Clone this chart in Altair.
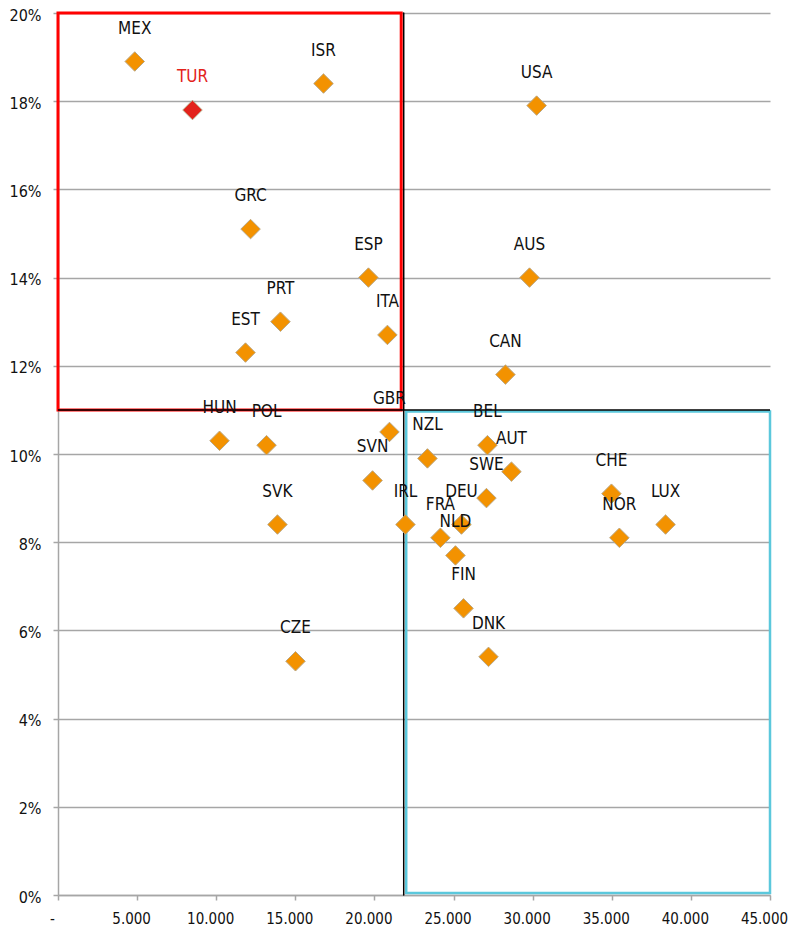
import altair as alt
import pandas as pd

# Data
countries = ["MEX", "TUR", "ISR", "USA", "GRC", "ESP", "AUS", "PRT", "EST", "ITA",
             "CAN", "HUN", "POL", "GBR", "NZL", "BEL", "AUT", "SVN", "SWE", "SVK",
             "IRL", "FRA", "DEU", "NLD", "FIN", "DNK", "CZE", "CHE", "NOR", "LUX"]
income = [4850, 8500, 16780, 30250, 12170, 19620, 29800, 14060, 11850, 20820,
          28280, 10210, 13180, 20950, 23350, 27140, 28660, 19880, 27080, 13870,
          21960, 24170, 25500, 25120, 25630, 27210, 15010, 34980, 35480, 38400]
poverty = [18.9, 17.8, 18.4, 17.9, 15.1, 14.0, 14.0, 13.0, 12.3, 12.7,
           11.8, 10.3, 10.2, 10.5, 9.9, 10.2, 9.6, 9.4, 9.0, 8.4,
           8.4, 8.1, 8.4, 7.7, 6.5, 5.4, 5.3, 9.1, 8.1, 8.4]
highlight = ["TUR"]

x_ticks = [0, 5000, 10000, 15000, 20000, 25000, 30000, 35000, 40000, 45000]
y_ticks = [0, 2, 4, 6, 8, 10, 12, 14, 16, 18, 20]

avg_income = 21850
avg_poverty = 11

FONT = "DejaVu Sans Condensed, Liberation Sans Narrow, sans-serif"
ORANGE = "#f39200"
RED_PT = "#e3221b"

df = pd.DataFrame({"country": countries, "income": income, "poverty": poverty})
df["hl"] = df["country"].isin(highlight)

xs = alt.Scale(domain=[0, 45000], nice=False, zero=False)
ys = alt.Scale(domain=[0, 20], nice=False, zero=False)

x_axis = alt.Axis(values=x_ticks, grid=False, domainColor="#a6a6a6", domainWidth=1.5,
                  tickColor="#a6a6a6", tickSize=5, tickWidth=1.5,
                  labelFont=FONT, labelFontSize=15, labelColor="#111111",
                  labelPadding=11, labelOffset=-6, labelOverlap=False, labelFlush=False,
                  title=None,
                  labelExpr="datum.value === 0 ? '-' : replace(format(datum.value, ','), ',', '.')")
y_axis = alt.Axis(values=y_ticks, grid=True, gridColor="#a6a6a6", gridWidth=1.5,
                  domainColor="#a6a6a6", domainWidth=1.5,
                  tickColor="#a6a6a6", tickSize=5, tickWidth=1.5,
                  labelFont=FONT, labelFontSize=16, labelColor="#111111",
                  labelPadding=12, labelOffset=2, labelOverlap=False, labelFlush=False,
                  title=None,
                  labelExpr="datum.value + '%'")

base = alt.Chart(df)

axes_layer = base.mark_point(opacity=0).encode(
    x=alt.X("income:Q", scale=xs, axis=x_axis),
    y=alt.Y("poverty:Q", scale=ys, axis=y_axis),
)

red_box = alt.Chart(pd.DataFrame({"x": [0], "x2": [avg_income], "y": [avg_poverty], "y2": [20]})).mark_rect(
    fillOpacity=0, stroke="#ff0000", strokeWidth=3, x2Offset=-2.5
).encode(x=alt.X("x:Q", scale=xs), x2="x2:Q", y=alt.Y("y:Q", scale=ys), y2="y2:Q")

cyan_box = alt.Chart(pd.DataFrame({"x": [avg_income], "x2": [45000], "y": [0], "y2": [avg_poverty]})).mark_rect(
    fillOpacity=0, stroke="#5bc8dc", strokeWidth=2.5, xOffset=2.5, yOffset=-2, y2Offset=1.5
).encode(x=alt.X("x:Q", scale=xs), x2="x2:Q", y=alt.Y("y:Q", scale=ys), y2="y2:Q")

vline = alt.Chart(pd.DataFrame({"x": [avg_income], "y": [0], "y2": [20]})).mark_rule(
    color="#000000", strokeWidth=1.5, strokeCap="round"
).encode(x=alt.X("x:Q", scale=xs), y=alt.Y("y:Q", scale=ys), y2="y2:Q")

hline = alt.Chart(pd.DataFrame({"x": [0], "x2": [45000], "y": [avg_poverty]})).mark_rule(
    color="#000000", strokeWidth=1.5
).encode(x=alt.X("x:Q", scale=xs), x2="x2:Q", y=alt.Y("y:Q", scale=ys))

points = base.mark_point(shape="diamond", filled=True, size=380, stroke="#b9a785",
                         strokeWidth=1, opacity=1).encode(
    x=alt.X("income:Q", scale=xs),
    y=alt.Y("poverty:Q", scale=ys),
    fill=alt.condition("datum.hl", alt.value(RED_PT), alt.value(ORANGE)),
)

labels = base.mark_text(font=FONT, fontSize=17, dy=-33, align="center", baseline="middle").encode(
    x=alt.X("income:Q", scale=xs),
    y=alt.Y("poverty:Q", scale=ys),
    text="country:N",
    color=alt.condition("datum.hl", alt.value("#e3221b"), alt.value("#111111")),
)

chart = alt.layer(axes_layer, red_box, cyan_box, vline, hline, points, labels).properties(
    width=712, height=882,
    autosize=alt.AutoSizeParams(type="none"),
    padding={"left": 50, "top": 5, "right": 18, "bottom": 35},
).configure_view(stroke=None)

chart.save("out.html", embed_options={"renderer": "svg", "actions": False})
